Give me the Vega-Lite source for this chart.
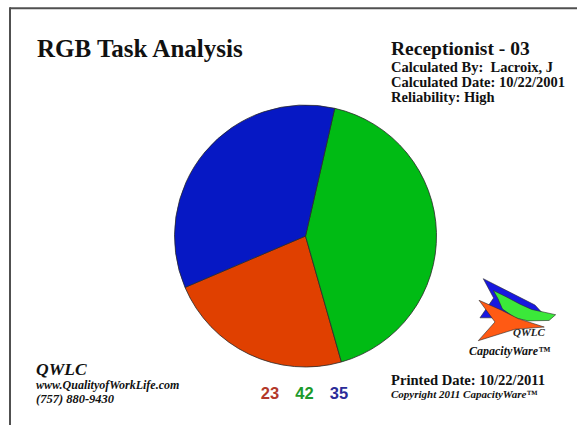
{
  "$schema": "https://vega.github.io/schema/vega-lite/v6.json",
  "width": 577,
  "height": 425,
  "autosize": {"type": "fit", "contains": "padding"},
  "padding": 0,
  "background": "#ffffff",
  "config": {"view": {"stroke": null}},
  "data": {
    "values": [
      {"category": "Red", "value": 23},
      {"category": "Green", "value": 42},
      {"category": "Blue", "value": 35}
    ]
  },
  "resolve": {"scale": {"color": "independent"}},
  "layer": [
    {
      "data": {"values": [{}]},
      "mark": {"type": "rule", "stroke": "#505050", "strokeWidth": 2},
      "encoding": {"x": {"value": 10}, "x2": {"value": 577}, "y": {"value": 8.3}, "y2": {"value": 8.3}}
    },
    {
      "data": {"values": [{}]},
      "mark": {"type": "rule", "stroke": "#505050", "strokeWidth": 2},
      "encoding": {"x": {"value": 10}, "x2": {"value": 10}, "y": {"value": 7.3}, "y2": {"value": 425}}
    },
    {
      "mark": {"type": "arc", "radius": 131, "stroke": "#2a2a2a", "strokeWidth": 0.8},
      "encoding": {
        "theta": {"field": "value", "type": "quantitative", "stack": true, "scale": {"range": [-1.974, 4.309]}},
        "order": {"field": "category", "type": "ordinal", "sort": "ascending"},
        "color": {
          "field": "category",
          "type": "nominal",
          "scale": {"domain": ["Red", "Green", "Blue"], "range": ["#e04000", "#00bb14", "#0618c4"]},
          "legend": null
        },
        "x": {"value": 305.5},
        "y": {"value": 236}
      }
    },
    {
      "mark": {"type": "text", "font": "Liberation Sans", "fontSize": 16.5, "fontWeight": "bold", "align": "center", "baseline": "alphabetic"},
      "encoding": {
        "text": {"field": "value", "type": "quantitative"},
        "x": {"field": "category", "type": "nominal", "scale": {"type": "point", "domain": ["Red", "Green", "Blue"], "range": [270, 339], "padding": 0}, "axis": null},
        "y": {"value": 399},
        "color": {
          "field": "category",
          "type": "nominal",
          "scale": {"domain": ["Red", "Green", "Blue"], "range": ["#b3382a", "#1c9a2a", "#2b2b98"]},
          "legend": null
        }
      }
    },
    {
      "data": {"values": [{}]},
      "mark": {"type": "point", "shape": "M-0.755,-0.689L0.42,-0.09L0.66,0.17L-0.2,0.2L-0.83,0.2L-0.52,-0.25Z", "size": 7744, "filled": true, "fill": "#1818e0", "stroke": "#2a2a2a", "strokeWidth": 0.6, "opacity": 1},
      "encoding": {"x": {"value": 516.5}, "y": {"value": 309}}
    },
    {
      "data": {"values": [{}]},
      "mark": {"type": "point", "shape": "M-0.527,-0.42L-0.26,-0.29L0.08,-0.11L0.345,0.01L0.89,0.13L0.74,0.26L0.268,0.27L-0.034,0.2L-0.32,0.0L-0.42,-0.234Z", "size": 7744, "filled": true, "fill": "#3be83a", "stroke": "#2a2a2a", "strokeWidth": 0.6, "opacity": 1},
      "encoding": {"x": {"value": 516.5}, "y": {"value": 309}}
    },
    {
      "data": {"values": [{}]},
      "mark": {"type": "point", "shape": "M-0.852,-0.198L-0.336,0.03L0.041,0.22L0.63,0.41L-0.034,0.46L-0.868,0.72L-0.489,0.295Z", "size": 7744, "filled": true, "fill": "#ff5a14", "stroke": "#2a2a2a", "strokeWidth": 0.6, "opacity": 1},
      "encoding": {"x": {"value": 516.5}, "y": {"value": 309}}
    },
    {
      "data": {"values": [{}]},
      "mark": {"type": "text", "text": "RGB Task Analysis", "font": "Liberation Serif", "fontSize": 25, "fontWeight": "bold", "align": "left", "baseline": "alphabetic", "color": "#111111"},
      "encoding": {"x": {"value": 37}, "y": {"value": 57}}
    },
    {
      "data": {"values": [{}]},
      "mark": {"type": "text", "text": "Receptionist - 03", "font": "Liberation Serif", "fontSize": 19.5, "fontWeight": "bold", "align": "left", "baseline": "alphabetic", "color": "#111111"},
      "encoding": {"x": {"value": 391}, "y": {"value": 55}}
    },
    {
      "data": {"values": [{}]},
      "mark": {"type": "text", "text": "Calculated By:\u00a0 Lacroix, J", "font": "Liberation Serif", "fontSize": 14.5, "fontWeight": "bold", "align": "left", "baseline": "alphabetic", "color": "#111111"},
      "encoding": {"x": {"value": 391}, "y": {"value": 72}}
    },
    {
      "data": {"values": [{}]},
      "mark": {"type": "text", "text": "Calculated Date: 10/22/2001", "font": "Liberation Serif", "fontSize": 14.5, "fontWeight": "bold", "align": "left", "baseline": "alphabetic", "color": "#111111"},
      "encoding": {"x": {"value": 391}, "y": {"value": 87}}
    },
    {
      "data": {"values": [{}]},
      "mark": {"type": "text", "text": "Reliability: High", "font": "Liberation Serif", "fontSize": 14.5, "fontWeight": "bold", "align": "left", "baseline": "alphabetic", "color": "#111111"},
      "encoding": {"x": {"value": 391}, "y": {"value": 102}}
    },
    {
      "data": {"values": [{}]},
      "mark": {"type": "text", "text": "QWLC", "font": "Liberation Serif", "fontSize": 17.5, "fontWeight": "bold", "fontStyle": "italic", "align": "left", "baseline": "alphabetic", "color": "#111111"},
      "encoding": {"x": {"value": 36}, "y": {"value": 375}}
    },
    {
      "data": {"values": [{}]},
      "mark": {"type": "text", "text": "www.QualityofWorkLife.com", "font": "Liberation Serif", "fontSize": 12, "fontWeight": "bold", "fontStyle": "italic", "align": "left", "baseline": "alphabetic", "color": "#111111"},
      "encoding": {"x": {"value": 36}, "y": {"value": 389}}
    },
    {
      "data": {"values": [{}]},
      "mark": {"type": "text", "text": "(757) 880-9430", "font": "Liberation Serif", "fontSize": 12.5, "fontWeight": "bold", "fontStyle": "italic", "align": "left", "baseline": "alphabetic", "color": "#111111"},
      "encoding": {"x": {"value": 36}, "y": {"value": 403}}
    },
    {
      "data": {"values": [{}]},
      "mark": {"type": "text", "text": "Printed Date: 10/22/2011", "font": "Liberation Serif", "fontSize": 14.6, "fontWeight": "bold", "align": "left", "baseline": "alphabetic", "color": "#111111"},
      "encoding": {"x": {"value": 391}, "y": {"value": 385}}
    },
    {
      "data": {"values": [{}]},
      "mark": {"type": "text", "text": "Copyright 2011 CapacityWare™", "font": "Liberation Serif", "fontSize": 11, "fontWeight": "bold", "fontStyle": "italic", "align": "left", "baseline": "alphabetic", "color": "#111111"},
      "encoding": {"x": {"value": 391}, "y": {"value": 398}}
    },
    {
      "data": {"values": [{}]},
      "mark": {"type": "text", "text": "QWLC", "font": "Liberation Serif", "fontSize": 11, "fontWeight": "bold", "fontStyle": "italic", "align": "left", "baseline": "alphabetic", "color": "#222222"},
      "encoding": {"x": {"value": 513}, "y": {"value": 336}}
    },
    {
      "data": {"values": [{}]},
      "mark": {"type": "text", "text": "CapacityWare™", "font": "Liberation Serif", "fontSize": 12, "fontWeight": "bold", "fontStyle": "italic", "align": "left", "baseline": "alphabetic", "color": "#111111"},
      "encoding": {"x": {"value": 469}, "y": {"value": 355}}
    }
  ]
}
